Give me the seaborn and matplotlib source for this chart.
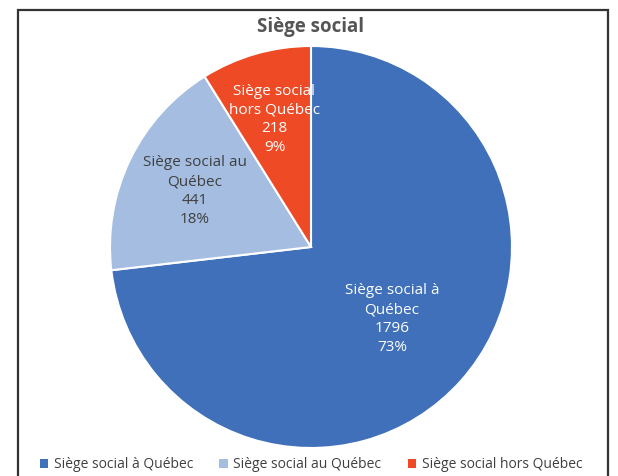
import matplotlib
matplotlib.use("Agg")
import matplotlib.pyplot as plt
import seaborn as sns
import numpy as np
from matplotlib.patches import Rectangle, Patch

categories = ["Siège social à Québec", "Siège social au Québec", "Siège social hors Québec"]
slice_labels = ["Siège social à\nQuébec", "Siège social au\nQuébec", "Siège social\nhors Québec"]
values = [1796, 441, 218]
percents = ["73%", "18%", "9%"]
title = "Siège social"

sns.set_theme(style="white")
plt.rcParams['font.family'] = ['Open Sans', 'DejaVu Sans']
colors = ["#3F70B9", "#A4BDE0", "#EE4A25"]
label_colors = ["white", "#404040", "white"]
label_r = [0.54, 0.64, 0.66]

W, H = 618, 476
fig = plt.figure(figsize=(W / 100, H / 100), dpi=100)
fig.patch.set_facecolor("white")

# outer frame
fig.patches.append(Rectangle((18 / W, -0.05), (608 - 18) / W, (476 - 10) / H + 0.05,
                             transform=fig.transFigure, fill=False,
                             edgecolor="#333333", linewidth=1.6, zorder=0))

cx, cy, R = 311, 247, 201
ax = fig.add_axes([(cx - R) / W, (H - cy - R) / H, 2 * R / W, 2 * R / H])
wedges, _ = ax.pie(values, colors=colors, startangle=90, counterclock=False,
                   wedgeprops=dict(edgecolor="white", linewidth=1.5))
ax.set_xlim(-1, 1)
ax.set_ylim(-1, 1)
ax.axis("off")

for w, lab, v, p, r, c in zip(wedges, slice_labels, values, percents, label_r, label_colors):
    ang = np.deg2rad((w.theta1 + w.theta2) / 2)
    t = ax.text(r * np.cos(ang), r * np.sin(ang), f"{lab}\n{v}\n{p}",
                ha="center", va="center", fontsize=11, color=c, linespacing=1.35)
    t.set_clip_path(w)

fig.text(cx / W, 1 - 27 / H, title, ha="center", va="center",
         fontsize=13.5, fontweight="bold", color="#555555")

handles = [Patch(facecolor=col, edgecolor="none") for col in colors]
fig.legend(handles, categories, loc="center", bbox_to_anchor=(cx / W, 11 / H),
           ncol=3, frameon=False, fontsize=10, handlelength=0.6, handleheight=0.6,
           handletextpad=0.4, columnspacing=1.9, labelcolor="#404040")

fig.savefig("out.png", dpi=100)
